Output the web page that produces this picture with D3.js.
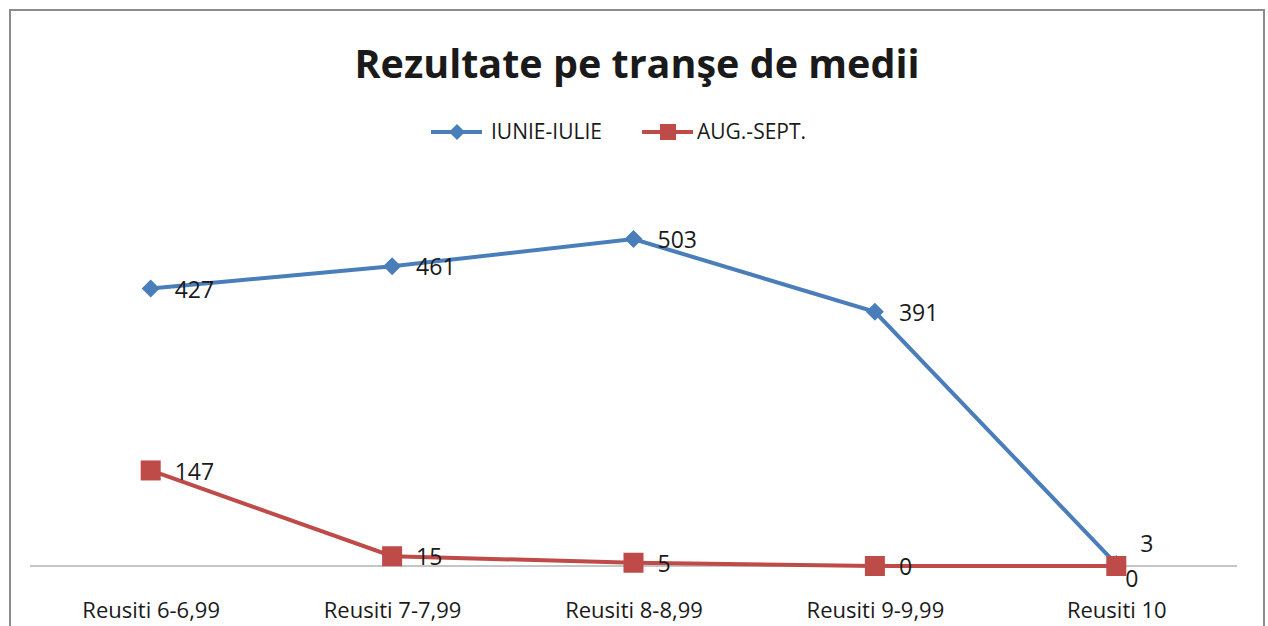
<!DOCTYPE html>
<head>
  <meta charset="utf-8">
  <script src="https://d3js.org/d3.v7.min.js"></script>
  <style>
    body { margin: 0; background: #fff; font-family: "Open Sans", Arial, sans-serif; }
    text { fill: #1a1a1a; }
  </style>
</head>
<body>
  <div id="vis"></div>
  <script>
    var categories = ["Reusiti 6-6,99", "Reusiti 7-7,99", "Reusiti 8-8,99", "Reusiti 9-9,99", "Reusiti 10"];
    var iunieIulie = [427, 461, 503, 391, 3];
    var augSept = [147, 15, 5, 0, 0];
    var seriesNames = ["IUNIE-IULIE", "AUG.-SEPT."];
    var seriesColors = ["#4a7ebb", "#be4b48"];

    var width = 1268, height = 626;

    var svg = d3.select("#vis").append("svg")
      .attr("width", width)
      .attr("height", height);

    // frame
    svg.append("rect")
      .attr("x", 10).attr("y", 10)
      .attr("width", 1254).attr("height", 640)
      .attr("fill", "#fff")
      .attr("stroke", "#8c8c8c")
      .attr("stroke-width", 2);

    svg.append("text")
      .attr("x", 637).attr("y", 78)
      .attr("text-anchor", "middle")
      .attr("font-size", 39.5)
      .attr("font-weight", "bold")
      .attr("fill", "#000")
      .text("Rezultate pe tranşe de medii");

    var x = d3.scalePoint()
      .domain(categories)
      .range([30, 1237])
      .padding(0.5);

    var y = d3.scaleLinear()
      .domain([0, 600])
      .range([566, 176]);

    // category axis
    var xAxis = svg.append("g")
      .attr("transform", "translate(0," + y(0) + ")")
      .call(d3.axisBottom(x).tickSize(0).tickPadding(36));
    xAxis.select(".domain").attr("stroke", "#8c8c8c").attr("stroke-width", 1)
      .attr("d", "M30,0H1237");
    xAxis.selectAll("text")
      .attr("font-size", 22)
      .attr("font-family", "'Open Sans', Arial, sans-serif")
      .attr("fill", "#1a1a1a");

    var series = [
      { name: seriesNames[0], values: iunieIulie, color: seriesColors[0], shape: "diamond" },
      { name: seriesNames[1], values: augSept, color: seriesColors[1], shape: "square" }
    ];

    var line = d3.line()
      .x(function (d, i) { return x(categories[i]); })
      .y(function (d) { return y(d); });

    function marker(g, shape, color) {
      if (shape === "diamond") {
        g.append("path").attr("d", "M0,-9L9,0L0,9L-9,0Z").attr("fill", color);
      } else {
        g.append("rect").attr("x", -10).attr("y", -10).attr("width", 20).attr("height", 20).attr("fill", color);
      }
    }

    series.forEach(function (s) {
      svg.append("path")
        .datum(s.values)
        .attr("d", line)
        .attr("fill", "none")
        .attr("stroke", s.color)
        .attr("stroke-width", 4);
    });

    series.forEach(function (s) {
      s.values.forEach(function (v, i) {
        var g = svg.append("g")
          .attr("transform", "translate(" + x(categories[i]) + "," + y(v) + ")");
        marker(g, s.shape, s.color);
      });
    });

    // data labels, to the right of points; split apart where they collide
    series.forEach(function (s, si) {
      s.values.forEach(function (v, i) {
        var other = series[1 - si].values[i];
        var dx = 24, dy = 1;
        if (Math.abs(y(v) - y(other)) < 14) {
          var upper = v > other || (v === other && si === 0);
          dx = upper ? 24 : 9;
          dy = upper ? -20 : 13;
        }
        svg.append("text")
          .attr("x", x(categories[i]) + dx)
          .attr("y", y(v) + dy)
          .attr("dy", "0.35em")
          .attr("font-size", 23)
          .text(v);
      });
    });

    // legend
    var legend = svg.append("g");
    var legendX = [431, 642];
    series.forEach(function (s, i) {
      var g = legend.append("g").attr("transform", "translate(" + legendX[i] + ",132)");
      g.append("line").attr("x1", 0).attr("x2", 51)
        .attr("stroke", s.color).attr("stroke-width", 4);
      var m = g.append("g").attr("transform", "translate(26,0)");
      if (s.shape === "diamond") {
        m.append("path").attr("d", "M0,-8L8,0L0,8L-8,0Z").attr("fill", s.color);
      } else {
        m.append("rect").attr("x", -8).attr("y", -8).attr("width", 16).attr("height", 16).attr("fill", s.color);
      }
      g.append("text").attr("x", i === 0 ? 60 : 55).attr("dy", "0.35em")
        .attr("font-size", 21).text(s.name);
    });
  </script>
</body>
